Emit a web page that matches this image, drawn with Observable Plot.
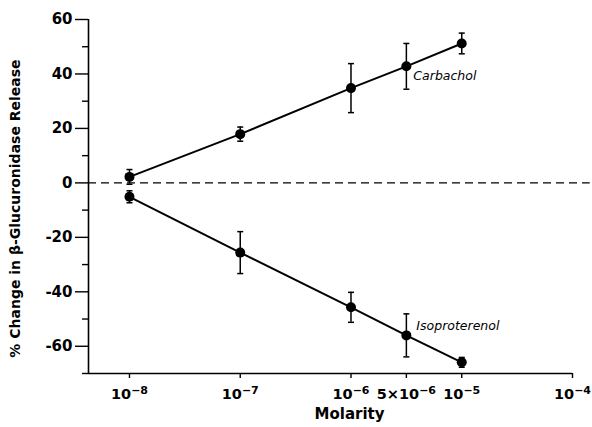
<!DOCTYPE html>
<html>
<head>
<meta charset="utf-8">
<script src="https://cdn.jsdelivr.net/npm/d3@7"></script>
<script src="https://cdn.jsdelivr.net/npm/@observablehq/plot@0.6"></script>
<style>
  html, body { margin: 0; padding: 0; background: #fff; }
</style>
</head>
<body>
<div id="chart"></div>
<script>
// log10(molarity) positions of the doses as plotted in the figure
const doseLog = [-8, -7, -6, -5.5, -5];
const tickLog = [-8, -7, -6, -5.5, -5, -4];
const tickBase = ["10", "10", "10", "5×10", "10", "10"];
const tickExp = ["-8", "-7", "-6", "-6", "-5", "-4"];
const carbacholMean = [2.2, 17.9, 34.8, 42.8, 51.2];
const carbacholErr = [2.7, 2.6, 9.0, 8.4, 3.8];
const isoMean = [-5.1, -25.6, -45.7, -56.0, -65.9];
const isoErr = [2.2, 7.7, 5.5, 7.9, 1.8];
const yMajor = [-60, -40, -20, 0, 20, 40, 60];
const yMinor = [-70, -50, -30, -10, 10, 30, 50];

const rows = [];
doseLog.forEach((x, i) => {
  rows.push({series: "Carbachol", x, y: carbacholMean[i], e: carbacholErr[i]});
});
doseLog.forEach((x, i) => {
  rows.push({series: "Isoproterenol", x, y: isoMean[i], e: isoErr[i]});
});
const labelFor = new Map(tickLog.map((v, i) => [v, tickBase[i] + "^" + tickExp[i]]));

const capSymbol = {
  draw(ctx, size) {
    const w = Math.sqrt(size) / 2;
    ctx.moveTo(-w, 0);
    ctx.lineTo(w, 0);
  }
};

const xLeft = -8.37, xRight = -4;

const chart = Plot.plot({
  width: 592,
  height: 427,
  marginLeft: 88,
  marginRight: 20,
  marginTop: 19,
  marginBottom: 54,
  style: {fontFamily: "DejaVu Sans", fontSize: "14px", fontWeight: "bold", color: "#000", background: "#fff"},
  x: {type: "linear", domain: [xLeft, xRight]},
  y: {domain: [-70, 60]},
  marks: [
    Plot.ruleX([xLeft], {stroke: "#000", strokeWidth: 1.6}),
    Plot.ruleY([-70], {stroke: "#000", strokeWidth: 1.6}),
    Plot.ruleY([0], {x1: xLeft, x2: -3.84, stroke: "#000", strokeWidth: 1.4, strokeDasharray: "8,5"}),
    Plot.axisY(yMajor, {tickSize: 13, tickPadding: 3, label: null, strokeWidth: 1.4, tickFormat: d => d, fontSize: 15}),
    Plot.axisY(yMinor, {tickSize: 6, label: null, strokeWidth: 1.4, tickFormat: () => ""}),
    Plot.axisX(tickLog, {tickSize: 5, tickPadding: 10, label: null, strokeWidth: 1.4, tickFormat: d => labelFor.get(d), fontSize: 14.5}),
    Plot.text(["% Change in β-Glucuronidase Release"], {frameAnchor: "left", textAnchor: "middle", rotate: -90, dx: -73, dy: 12, fontSize: 14, fontWeight: "bold"}),
    Plot.text(["Molarity"], {frameAnchor: "bottom", dx: 19, dy: 45, fontSize: 15, fontWeight: "bold"}),
    Plot.line(rows, {x: "x", y: "y", z: "series", stroke: "#000", strokeWidth: 2}),
    Plot.ruleX(rows, {x: "x", y1: d => d.y - d.e, y2: d => d.y + d.e, stroke: "#000", strokeWidth: 1.5}),
    Plot.dot(rows, {x: "x", y: d => d.y - d.e, symbol: capSymbol, r: 3.4, stroke: "#000", strokeWidth: 1.5, fill: "none"}),
    Plot.dot(rows, {x: "x", y: d => d.y + d.e, symbol: capSymbol, r: 3.4, stroke: "#000", strokeWidth: 1.5, fill: "none"}),
    Plot.dot(rows, {x: "x", y: "y", r: 5, fill: "#000", stroke: "none"}),
    Plot.text(["Carbachol"], {x: -5.5, y: 39.4, dx: 7, textAnchor: "start", fontStyle: "italic", fontWeight: "normal", fontSize: 12.5}),
    Plot.text(["Isoproterenol"], {x: -5.5, y: -52.7, dx: 10, textAnchor: "start", fontStyle: "italic", fontWeight: "normal", fontSize: 12.5})
  ]
});

// render exponents as raised tspans
d3.select(chart).selectAll("g[aria-label='x-axis tick label'] text").each(function() {
  const t = d3.select(this);
  const s = t.text();
  if (!s.includes("^")) return;
  const [base, exp] = s.split("^");
  t.text(null);
  t.append("tspan").text(base);
  t.append("tspan").attr("dy", "-0.4em").attr("font-size", "11px").text(exp.replace("-", "−"));
});

document.getElementById("chart").appendChild(chart);
</script>
</body>
</html>
